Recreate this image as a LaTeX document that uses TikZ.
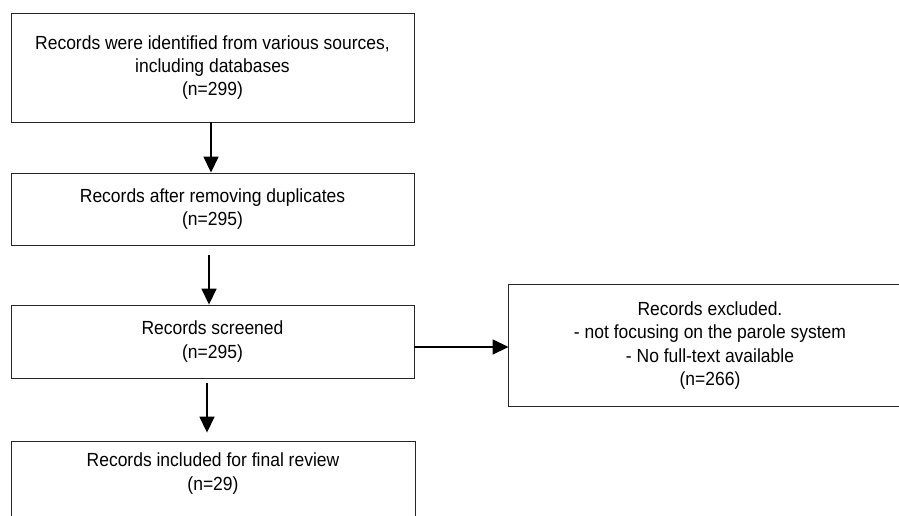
\documentclass[tikz,border=0pt]{standalone}
\usepackage{fontspec}
\setmainfont{Liberation Sans}[FakeStretch=0.92]
\usetikzlibrary{arrows.meta,calc}
\begin{document}
\begin{tikzpicture}[x=1pt,y=-1pt,
  box/.style={draw=black!85,line width=0.9pt,rectangle,inner sep=0pt,align=center,
    font=\fontsize{19}{23.3}\selectfont},
  edge/.style={draw=black!85,line width=0.9pt},
  conn/.style={line width=1.6pt,-{Triangle[length=16pt,width=15pt]}}]
\useasboundingbox (0,0) rectangle (899,515);
\node[box,minimum width=403pt,minimum height=109pt] (n1) at (212.5,67.5)
  {Records were identified from various sources,\\including databases\\(n=299)};
\node[box,minimum width=403pt,minimum height=72pt] (n2) at (212.5,209)
  {Records after removing duplicates\\(n=295)};
\node[box,minimum width=403pt,minimum height=73pt] (n3) at (212.5,341.5)
  {Records screened\\(n=295)};
\node[box,draw=none,minimum width=402pt,minimum height=121pt] (n5) at (710,345.5)
  {Records excluded.\\- not focusing on the parole system\\- No full-text available\\(n=266)};
\draw[edge] (n5.north east) -- (n5.north west) -- (n5.south west) -- (n5.south east);
\node[box,draw=none,minimum width=403pt,minimum height=63pt] (n4) at (213,473.5)
  {Records included for final review\\(n=29)};
\draw[edge] ($(n4.south west)+(0,40)$) -- (n4.north west) -- (n4.north east) -- ($(n4.south east)+(0,40)$);
\coordinate (a2s) at ($(n2.south)+(-3.5,10)$);
\coordinate (a3s) at ($(n3.south)+(-5.5,5)$);
\coordinate (a3e) at ($(n4.north)+(-6,-9)$);
\draw[conn] (n1.south -| 211,0) -- (n2.north -| 211,0);
\draw[conn] (a2s) -- (a2s |- n3.north);
\draw[conn] (a3s) -- (a3e);
\draw[conn] (n3.east |- 0,347) -- (n5.west |- 0,347);
\end{tikzpicture}
\end{document}
